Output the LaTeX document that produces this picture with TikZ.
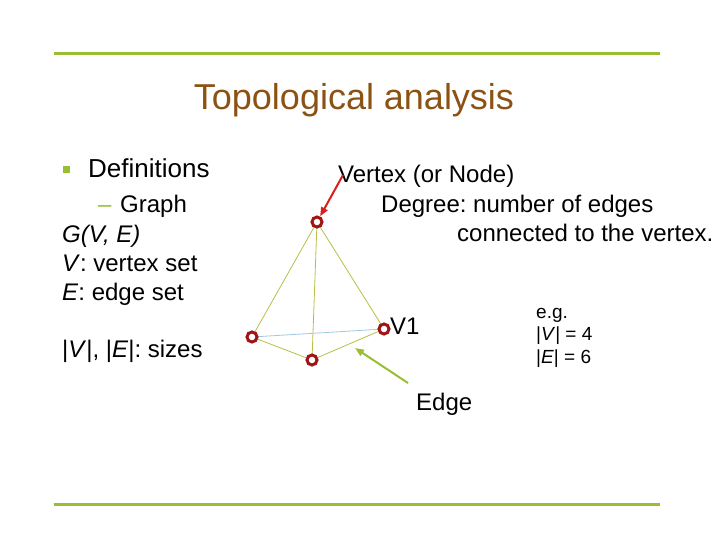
\documentclass[tikz,border=0pt]{standalone}
\usepackage{fontspec}
\setmainfont{Liberation Sans}
\usetikzlibrary{arrows.meta}
\frenchspacing
\definecolor{rule}{RGB}{154,190,50}
\definecolor{titlec}{RGB}{140,82,20}
\definecolor{edgec}{RGB}{185,190,70}
\definecolor{blueedge}{RGB}{160,200,225}
\definecolor{vred}{RGB}{160,20,20}
\definecolor{arrred}{RGB}{220,30,30}
\tikzset{
  txt/.style={anchor=base west,inner sep=0pt,font=\fontsize{24}{29}\selectfont},
  small/.style={anchor=base west,inner sep=0pt,font=\fontsize{19}{23}\selectfont,align=left},
  vtx/.style={circle,draw=vred,line width=3pt,fill=white,minimum size=10pt,inner sep=0pt},
  gedge/.style={draw=edgec,line width=0.8pt},
  hrule/.style={draw=rule,line width=3pt},
  pointer/.style={line width=2pt,-{Triangle[length=9pt,width=7pt]}}
}
\begin{document}
\frenchspacing
\begin{tikzpicture}[x=1pt,y=-1pt]
\useasboundingbox (0,0) rectangle (720,540);
% rules
\coordinate (r1a) at (54,54); \coordinate (r1b) at (660,54);
\coordinate (r2a) at (54,504); \coordinate (r2b) at (660,504);
\draw[hrule] (r1a) -- (r1b);
\draw[hrule] (r2a) -- (r2b);
% title
\node[anchor=base,inner sep=0pt,text=titlec,font=\fontsize{36}{42}\selectfont] (title) at (354,110) {Topological analysis};
% left text
\node[fill=rule,minimum size=7pt,inner sep=0pt] (bullet) at (66,170) {};
\node[txt,font=\fontsize{26}{30}\selectfont] (defs) at (88,178) {Definitions};
\node[txt,text=rule] (dash) at (98,213) {--};
\node[txt] (graph) at (120,213) {Graph};
\node[txt] (gve) at (62,242) {\textit{G(V, E)}};
\node[txt] (vset) at (62,271) {\textit{V}: vertex set};
\node[txt] (eset) at (62,300) {\textit{E}: edge set};
\node[txt] (sizes) at (62,357) {|\textit{V}|, |\textit{E}|: sizes};
% graph
\coordinate (pa) at (317,222);
\coordinate (pb) at (252,337);
\coordinate (pc) at (312,360);
\coordinate (pd) at (384,329);
\draw[gedge] (pa) -- (pb);
\draw[gedge] (pa) -- (pc);
\draw[gedge] (pa) -- (pd);
\draw[gedge] (pb) -- (pc);
\draw[gedge] (pc) -- (pd);
\draw[draw=blueedge,line width=0.8pt] (pb) -- (pd);
\node[vtx] (va) at (pa) {};
\node[vtx] (vb) at (pb) {};
\node[vtx] (vc) at (pc) {};
\node[vtx] (vd) at (pd) {};
% texts right
\node[txt] (vertex) at (338,183) {Vertex (or Node)};
\node[txt] (degree) at (381,212) {Degree: number of edges};
\node[txt] (conn) at (457,241) {connected to the vertex.};
\node[txt] (v1) at (390,334) {V1};
\node[txt] (edge) at (416,410) {Edge};
\node[small] (eg) at (536,318) {e.g.};
\node[small] (nv) at (536,340) {|\textit{V}| = 4};
\node[small] (ne) at (536,363) {|\textit{E}| = 6};
% arrows
\coordinate (redstart) at (343,175);
\draw[pointer,draw=arrred,fill=arrred] (redstart) -- (va);
\coordinate (greenstart) at (408,383);
\coordinate (greentip) at (355,348);
\draw[pointer,draw=rule,fill=rule] (greenstart) -- (greentip);
\end{tikzpicture}
\end{document}
